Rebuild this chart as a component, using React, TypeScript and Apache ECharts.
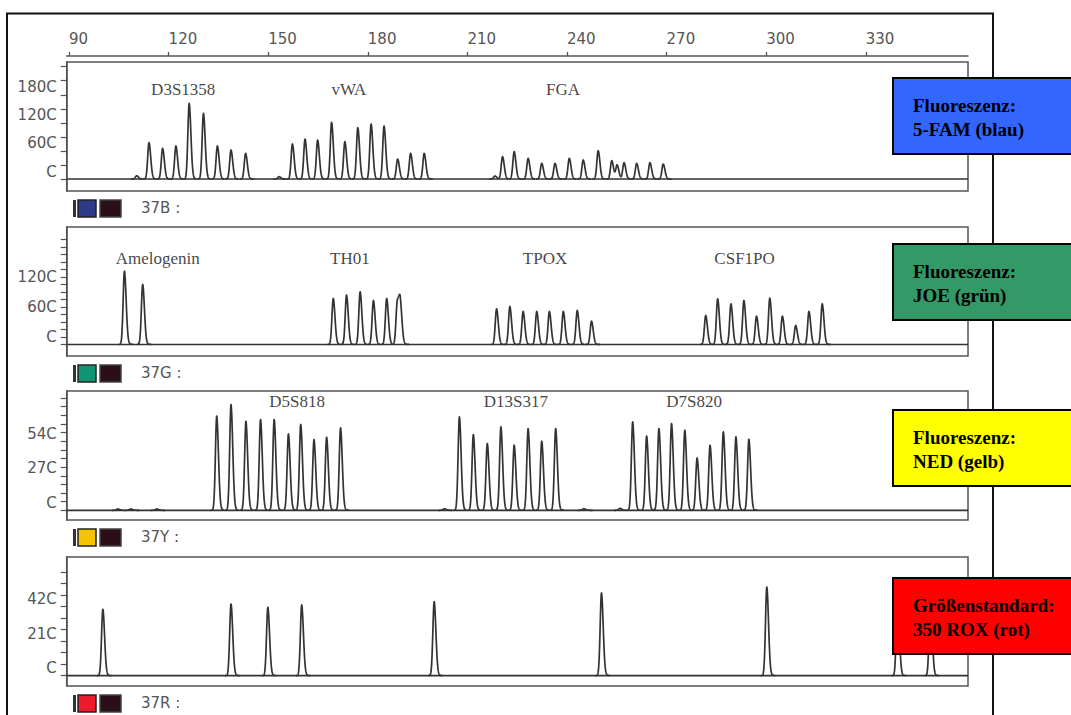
import React, { useEffect, useRef } from "react";
import * as echarts from "echarts";

// ---------- axis ranges & ticks ----------
const X_MIN = 89.3;
const X_MAX = 360.8;
const TOP_TICKS = [90, 120, 150, 180, 210, 240, 270, 300, 330];

const Y_MIN = [-256, -230, -76, -63];
const Y_MAX = [2500, 2350, 933, 722];

const TICKS_BLUE = [0, 300, 600, 900, 1200, 1500, 1800, 2100, 2400];
const LABELS_BLUE = [0, 600, 1200, 1800];
const TICKS_GREEN = [0, 150, 300, 450, 600, 750, 900, 1050, 1200, 1350, 1500, 1650, 1800, 1950, 2100];
const LABELS_GREEN = [0, 600, 1200];
const TICKS_YELLOW = [0, 67.5, 135, 202.5, 270, 337.5, 405, 472.5, 540, 607.5, 675, 742.5, 810, 877.5];
const LABELS_YELLOW = [0, 270, 540];
const TICKS_RED = [0, 70, 140, 210, 280, 350, 420, 490, 560, 630];
const LABELS_RED = [0, 210, 420];

// ---------- peaks: [size (bp), height] ----------
const BLUE_PEAKS = [
  [110.4, 69],
  [114.1, 777], [118.2, 655], [122.2, 705], [126.2, 1616], [130.5, 1402], [134.7, 705], [138.8, 619], [143.2, 548],
  [153.3, 50],
  [157.3, 748], [161.1, 854], [164.9, 833], [169.1, 1210], [173.1, 798], [177.0, 1097], [181.0, 1175], [184.9, 1132],
  [189.0, 427], [192.9, 548], [197.0, 548],
  [218.3, 64],
  [220.6, 477], [224.1, 584], [228.3, 441], [232.4, 334], [236.4, 334], [240.7, 441], [244.9, 406], [249.4, 606],
  [253.5, 392], [255.1, 299], [257.2, 349], [261.0, 334], [265.0, 349], [269.0, 320],
];
const GREEN_PEAKS = [
  [106.7, 1466], [112.2, 1200],
  [169.6, 920], [173.6, 987], [177.7, 1053], [181.7, 880], [185.7, 920], [188.9, 840], [189.8, 760],
  [218.8, 713], [222.8, 760], [226.8, 660], [230.9, 660], [234.7, 660], [238.9, 660], [243.1, 680], [247.4, 467],
  [281.8, 580], [285.4, 913], [289.4, 813], [293.3, 880], [297.1, 567], [301.1, 927], [304.9, 567], [308.9, 380],
  [312.9, 660], [316.9, 813],
];
const YELLOW_PEAKS = [
  [104.7, 10], [108.6, 10], [116.4, 10],
  [134.5, 736], [138.8, 827], [143.3, 696], [147.7, 710], [151.8, 710], [156.1, 597], [159.8, 671], [163.8, 553],
  [167.6, 571], [171.8, 644],
  [203.1, 12],
  [207.6, 730], [211.8, 592], [216.0, 522], [220.1, 652], [224.1, 509], [228.3, 639], [232.4, 540], [236.6, 639],
  [245.1, 12], [256.0, 15],
  [259.8, 691], [264.0, 581], [267.7, 639], [271.5, 678], [275.5, 626], [279.2, 409], [283.1, 509], [287.1, 613],
  [290.9, 574], [294.8, 556],
];
const RED_PEAKS = [
  [100.2, 404], [138.8, 436], [149.9, 416], [160.1, 430], [200.0, 450], [250.4, 503], [300.2, 539], [339.6, 480], [349.5, 480],
];

// ---------- locus labels ----------
const LOCI_BLUE = ["D3S1358", "vWA", "FGA"];
const LOCI_BLUE_POS = [124.4, 174.3, 238.8];
const LOCI_GREEN = ["Amelogenin", "TH01", "TPOX", "CSF1PO"];
const LOCI_GREEN_POS = [116.7, 174.6, 233.4, 293.5];
const LOCI_YELLOW = ["D5S818", "D13S317", "D7S820"];
const LOCI_YELLOW_POS = [158.7, 224.6, 278.3];
const LOCI_LEVEL = [1923, 1730, 847];

// ---------- panel texts ----------
const CHANNEL_NAMES = ["37B :", "37G :", "37Y :", "37R :"];
const DYE_LINE1 = ["Fluoreszenz:", "Fluoreszenz:", "Fluoreszenz:", "Größenstandard:"];
const DYE_LINE2 = ["5-FAM (blau)", "JOE (grün)", "NED (gelb)", "350 ROX (rot)"];

// ---------- layout / style ----------
const PANEL_TOPS = [62, 227, 391, 557];
const PANEL_H = 129;
const PLOT_LEFT = 66.7;
const PLOT_W = 901.3;
const BOX_TOPS = [78, 244, 410, 578];
const BOX_COLORS = ["#3366ff", "#339966", "#ffff00", "#ff0000"];
const CHIP_COLORS = ["#2c3a88", "#119574", "#f5c300", "#ee1b2e"];
const LINE_COLOR = "#333";
const AXIS_COLOR = "#555";
const AXIS_FONT = "DejaVu Sans";

const SIG_L = 0.4;
const SIG_R = 0.52;
function profile(x: number, p: number, h: number): number {
  const d = x - p;
  if (d < 0) {
    const r = -d / SIG_L;
    return r > 5 ? 0 : h * Math.exp(-0.5 * r * r);
  }
  const r = d / SIG_R;
  const g = r > 5 ? 0 : Math.exp(-0.5 * r * r);
  return h * (0.93 * g + 0.07 * Math.exp(-d / 0.6));
}

function makeRender(peaks: number[][]) {
  return (params: any, api: any) => {
    const i = params.dataIndex;
    const p = peaks[i][0];
    const prev = i > 0 ? peaks[i - 1][0] : -Infinity;
    const next = i < peaks.length - 1 ? peaks[i + 1][0] : Infinity;
    const left = Math.max(p - 1.8, (prev + p) / 2);
    const right = Math.min(p + 2.6, (p + next) / 2);
    const pts: number[][] = [];
    const sample = (x: number) => {
      let y = 0;
      for (const pk of peaks) y += profile(x, pk[0], pk[1]);
      pts.push(api.coord([x, y]));
    };
    for (let x = left; x < right; x += 0.05) sample(x);
    sample(right);
    return {
      type: "polyline",
      shape: { points: pts },
      style: { stroke: LINE_COLOR, lineWidth: 1.7, fill: "none", lineJoin: "round" },
      silent: true,
    };
  };
}

const PEAKS = [BLUE_PEAKS, GREEN_PEAKS, YELLOW_PEAKS, RED_PEAKS];
const TICKS = [TICKS_BLUE, TICKS_GREEN, TICKS_YELLOW, TICKS_RED];
const LABELS = [LABELS_BLUE, LABELS_GREEN, LABELS_YELLOW, LABELS_RED];
const LOCI = [LOCI_BLUE, LOCI_GREEN, LOCI_YELLOW];
const LOCI_POS = [LOCI_BLUE_POS, LOCI_GREEN_POS, LOCI_YELLOW_POS];

const yFmt = (v: number) => (v === 0 ? "C" : `${Math.round(v / 10)}C`);

function buildOption() {
  const grid: any[] = [];
  const xAxis: any[] = [];
  const yAxis: any[] = [];
  const series: any[] = [];
  const graphic: any[] = [];

  for (let k = 0; k < 4; k++) {
    grid.push({
      left: PLOT_LEFT,
      width: PLOT_W,
      top: PANEL_TOPS[k],
      height: PANEL_H,
      show: true,
      borderColor: AXIS_COLOR,
      borderWidth: 1.5,
      backgroundColor: "transparent",
    });
    if (k === 0) {
      xAxis.push({
        type: "value",
        gridIndex: 0,
        min: X_MIN,
        max: X_MAX,
        position: "top",
        offset: 6,
        axisLine: { show: true, onZero: false, lineStyle: { color: AXIS_COLOR, width: 1.5 } },
        axisTick: { show: true, customValues: TOP_TICKS, length: 4, lineStyle: { color: AXIS_COLOR, width: 1.3 } },
        axisLabel: {
          customValues: TOP_TICKS,
          align: "left",
          margin: 10,
          fontFamily: AXIS_FONT,
          fontSize: 15,
          color: AXIS_COLOR,
        },
        splitLine: { show: false },
      });
    } else {
      xAxis.push({
        type: "value",
        gridIndex: k,
        min: X_MIN,
        max: X_MAX,
        show: false,
        axisLine: { onZero: false },
        splitLine: { show: false },
      });
    }
    yAxis.push({
      type: "value",
      gridIndex: k,
      min: Y_MIN[k],
      max: Y_MAX[k],
      axisLine: { show: true, onZero: false, lineStyle: { color: AXIS_COLOR, width: 1.5 } },
      axisTick: { show: true, customValues: TICKS[k], length: 6, lineStyle: { color: AXIS_COLOR, width: 1.2 } },
      axisLabel: {
        customValues: LABELS[k],
        formatter: yFmt,
        margin: 10,
        fontFamily: AXIS_FONT,
        fontSize: 15,
        color: AXIS_COLOR,
        verticalAlign: "bottom",
      },
      splitLine: { show: false },
    });

    series.push({
      type: "line",
      xAxisIndex: k,
      yAxisIndex: k,
      data: [[X_MIN, 0], [X_MAX, 0]],
      symbol: "none",
      silent: true,
      lineStyle: { color: LINE_COLOR, width: 1.7 },
    });
    series.push({
      type: "custom",
      xAxisIndex: k,
      yAxisIndex: k,
      data: PEAKS[k],
      encode: { x: 0, y: 1 },
      renderItem: makeRender(PEAKS[k]),
      clip: false,
      silent: true,
    });
    if (k < 3) {
      series.push({
        type: "scatter",
        xAxisIndex: k,
        yAxisIndex: k,
        symbolSize: 1,
        silent: true,
        itemStyle: { color: "transparent" },
        data: LOCI[k].map((n, i) => ({ name: n, value: [LOCI_POS[k][i], LOCI_LEVEL[k]] })),
        label: {
          show: true,
          position: "inside",
          formatter: "{b}",
          fontFamily: "Liberation Serif",
          fontSize: 17,
          color: "#111",
        },
      });
    }

    // channel chips & name under each panel
    const B = PANEL_TOPS[k] + PANEL_H;
    graphic.push({ type: "rect", silent: true, shape: { x: 73, y: B + 9, width: 3, height: 17 }, style: { fill: "#333" } });
    graphic.push({
      type: "rect",
      silent: true,
      shape: { x: 78, y: B + 9, width: 18, height: 17 },
      style: { fill: CHIP_COLORS[k], stroke: "#222", lineWidth: 1.5 },
    });
    graphic.push({
      type: "rect",
      silent: true,
      shape: { x: 100, y: B + 9, width: 21, height: 17 },
      style: { fill: "#2a0f16", stroke: "#444", lineWidth: 1.5 },
    });
    graphic.push({
      type: "text",
      silent: true,
      x: 141,
      y: B + 17,
      style: { text: CHANNEL_NAMES[k], font: `15px "${AXIS_FONT}"`, fill: AXIS_COLOR, verticalAlign: "middle" },
    });

    // dye legend boxes
    graphic.push({
      type: "rect",
      silent: true,
      z: 100,
      shape: { x: 893, y: BOX_TOPS[k], width: 190, height: 76 },
      style: { fill: BOX_COLORS[k], stroke: "#000", lineWidth: 2 },
    });
    graphic.push({
      type: "text",
      silent: true,
      z: 101,
      x: 913,
      y: BOX_TOPS[k] + 27,
      style: { text: DYE_LINE1[k], font: 'bold 19px "Liberation Serif"', fill: "#000", verticalAlign: "middle" },
    });
    graphic.push({
      type: "text",
      silent: true,
      z: 101,
      x: 913,
      y: BOX_TOPS[k] + 51,
      style: { text: DYE_LINE2[k], font: 'bold 19px "Liberation Serif"', fill: "#000", verticalAlign: "middle" },
    });
  }

  // outer frame
  graphic.push({
    type: "rect",
    silent: true,
    z: 50,
    shape: { x: 7, y: 13.5, width: 986, height: 730 },
    style: { fill: "none", stroke: "#111", lineWidth: 2 },
  });

  return { animation: false, backgroundColor: "#ffffff", grid, xAxis, yAxis, series, graphic };
}

export default function App() {
  const ref = useRef<HTMLDivElement>(null);
  useEffect(() => {
    if (!ref.current) return;
    const chart = echarts.init(ref.current, undefined, { renderer: "svg" });
    chart.setOption(buildOption() as any);
    return () => chart.dispose();
  }, []);
  return (
    <div
      ref={ref}
      style={{ position: "absolute", left: 0, top: 0, width: 1071, height: 715, background: "#fff" }}
    />
  );
}
